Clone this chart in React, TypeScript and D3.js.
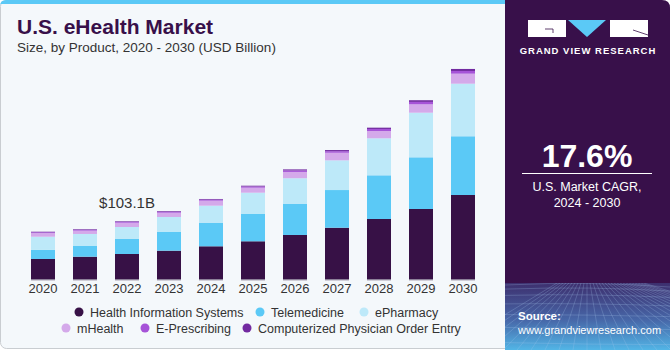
import React from 'react';
import * as d3 from 'd3';

const years = ['2020', '2021', '2022', '2023', '2024', '2025', '2026', '2027', '2028', '2029', '2030'];
const seriesNames = [
  'Health Information Systems',
  'Telemedicine',
  'ePharmacy',
  'mHealth',
  'E-Prescribing',
  'Computerized Physician Order Entry',
];
const healthInfoSystems = [36.1, 40.2, 45.0, 50.9, 58.7, 67.6, 78.8, 91.7, 107.2, 125.0, 149.9];
const telemedicine = [16.5, 19.6, 26.7, 33.2, 42.0, 48.5, 55.7, 67.0, 77.7, 91.9, 104.4];
const ePharmacy = [23.1, 20.8, 21.3, 26.7, 30.2, 37.9, 45.2, 52.8, 65.8, 79.3, 93.5];
const mHealth = [6.6, 5.9, 7.6, 7.6, 8.9, 8.9, 11.2, 13.5, 13.0, 14.9, 17.8];
const ePrescribing = [1.3, 1.4, 1.4, 1.6, 1.8, 2.1, 2.7, 2.7, 3.6, 4.3, 4.8];
const cpoe = [1.0, 1.1, 1.1, 1.2, 1.2, 1.4, 1.8, 2.1, 2.3, 3.0, 3.6];
const colors = ['#371146', '#5bc9f6', '#bde9f9', '#d4a9ea', '#a653d8', '#722aa0'];
const annotation = { year: '2022', text: '$103.1B' };

const W = 670;
const H = 350;
const FONT = '"Liberation Sans", Arial, sans-serif';

export default function App() {
  const rows = years.map((y, i) => ({
    year: y,
    s0: healthInfoSystems[i],
    s1: telemedicine[i],
    s2: ePharmacy[i],
    s3: mHealth[i],
    s4: ePrescribing[i],
    s5: cpoe[i],
  }));
  const keys = ['s0', 's1', 's2', 's3', 's4', 's5'];
  const stacked = d3.stack<any>().keys(keys)(rows);

  const x = d3.scaleBand().domain(years).range([22, 484]).paddingInner(0.4286).paddingOuter(0.2143);
  const y = d3.scaleLinear().domain([0, 400]).range([279.3, 279.3 - 400 / 1.778]);

  const annIdx = years.indexOf(annotation.year);
  const annTop = stacked[stacked.length - 1][annIdx][1];

  const legendItems = [
    { i: 0, cx: 79, cy: 312 },
    { i: 1, cx: 260, cy: 312 },
    { i: 2, cx: 364, cy: 312 },
    { i: 3, cx: 66, cy: 328 },
    { i: 4, cx: 145, cy: 328 },
    { i: 5, cx: 247, cy: 328 },
  ];

  // grid lines for the bottom of the side panel
  const gridH = d3.range(0, 8).map(k => 285 + k * k * 1.1 + k * 3);
  const gridV = d3.range(-10, 20).map(k => k);

  return (
    <div style={{ position: 'absolute', left: 0, top: 0, width: W, height: H }}>
      <svg width={W} height={H} style={{ display: 'block', fontFamily: FONT }}>
        <defs>
          <linearGradient id="panelBottom" x1="0" y1="0" x2="0" y2="1">
            <stop offset="0%" stopColor="#3d2f6e" />
            <stop offset="55%" stopColor="#4767a8" />
            <stop offset="100%" stopColor="#52b5e6" />
          </linearGradient>
          <linearGradient id="panelTop" x1="0" y1="0" x2="0" y2="1">
            <stop offset="0%" stopColor="#38104a" />
            <stop offset="80%" stopColor="#38104a" />
            <stop offset="100%" stopColor="#3a1c5a" />
          </linearGradient>
          <clipPath id="panelClip">
            <rect x={505} y={283} width={165} height={67} />
          </clipPath>
        </defs>

        {/* left card */}
        <rect x={0.5} y={0.5} width={520} height={348} rx={6} fill="#f4f8fb" stroke="#c9cdd1" />
        <path d="M0,6 Q0,0 6,0 H510 V4 H0 Z" fill="#5bc9f6" />

        {/* title */}
        <text x={17} y={34} fontSize={21} fontWeight={900} fill="#38104a">
          U.S. eHealth Market
        </text>
        <text x={17} y={52} fontSize={13.5} fill="#333">
          Size, by Product, 2020 - 2030 (USD Billion)
        </text>

        {/* bars */}
        {stacked.map((layer, li) => (
          <g key={layer.key} fill={colors[li]}>
            {layer.map((d, i) => (
              <rect
                key={years[i]}
                x={x(years[i])}
                y={y(d[1])}
                width={x.bandwidth()}
                height={Math.max(0, y(d[0]) - y(d[1]))}
              />
            ))}
          </g>
        ))}
        {years.map(yr => (
          <rect key={yr} x={x(yr)} y={y(0)} width={x.bandwidth()} height={1} fill="#7a6a86" />
        ))}

        {/* annotation */}
        <text
          x={(x(annotation.year) ?? 0) + x.bandwidth() / 2}
          y={y(annTop) - 13}
          textAnchor="middle"
          fontSize={15}
          fill="#333"
        >
          {annotation.text}
        </text>

        {/* x labels */}
        {years.map(yr => (
          <text key={yr} x={(x(yr) ?? 0) + x.bandwidth() / 2} y={293} textAnchor="middle" fontSize={13} fill="#333">
            {yr}
          </text>
        ))}

        {/* legend */}
        {legendItems.map(l => (
          <g key={l.i}>
            <circle cx={l.cx} cy={l.cy} r={4.5} fill={colors[l.i]} />
            <text x={l.cx + 11} y={l.cy + 4.5} fontSize={12.5} fill="#333">
              {seriesNames[l.i]}
            </text>
          </g>
        ))}

        {/* side panel */}
        <path d={`M505,0 H662 Q670,0 670,8 V350 H505 Z`} fill="url(#panelTop)" />
        <rect x={505} y={283} width={165} height={67} fill="url(#panelBottom)" />
        <g clipPath="url(#panelClip)" stroke="#a9c8ee" strokeOpacity={0.35} strokeWidth={0.7} fill="none">
          {gridH.map((gy, k) => (
            <path key={'h' + k} d={`M505,${gy} Q590,${gy - 4 + k} 670,${gy + 2}`} />
          ))}
          {gridV.map(k => (
            <line key={'v' + k} x1={587 + k * 3} y1={283} x2={587 + k * 14} y2={350} />
          ))}
        </g>

        {/* logo */}
        <rect x={528} y={20} width={38} height={17} fill="#ffffff" />
        <path d="M545,29 H553 V33" stroke="#38104a" strokeWidth={0.8} fill="none" />
        <path d="M568,20 H606 L587,37 Z" fill="#5bc9f6" />
        <rect x={610} y={20} width={38} height={17} fill="#ffffff" />
        <path d="M633,30 L648,35" stroke="#38104a" strokeWidth={0.8} />
        <text x={588} y={54} textAnchor="middle" fontSize={9.5} fontWeight={700} fill="#ffffff" letterSpacing={1}>
          GRAND VIEW RESEARCH
        </text>

        <text x={587} y={167} textAnchor="middle" fontSize={32} fontWeight={700} fill="#ffffff">
          17.6%
        </text>
        <line x1={522} y1={173.5} x2={652} y2={173.5} stroke="#ffffff" strokeWidth={1} />
        <text x={587} y={191} textAnchor="middle" fontSize={12.5} fill="#ffffff">
          U.S. Market CAGR,
        </text>
        <text x={587} y={207} textAnchor="middle" fontSize={12.5} fill="#ffffff">
          2024 - 2030
        </text>

        <text x={518} y={320} fontSize={11.5} fontWeight={700} fill="#ffffff">
          Source:
        </text>
        <text x={518} y={334} fontSize={11} fill="#ffffff">
          www.grandviewresearch.com
        </text>
      </svg>
    </div>
  );
}
